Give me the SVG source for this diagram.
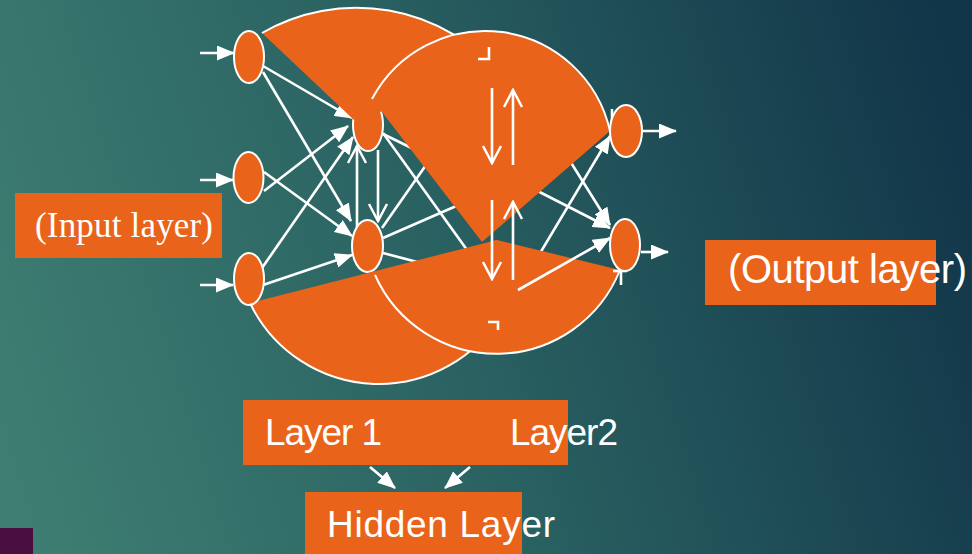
<svg xmlns="http://www.w3.org/2000/svg" width="972" height="554" viewBox="0 0 972 554">
  <defs>
    <linearGradient id="bg" gradientUnits="userSpaceOnUse" x1="0" y1="420" x2="972" y2="120">
      <stop offset="0" stop-color="#3e7e72"/>
      <stop offset="0.45" stop-color="#2a6262"/>
      <stop offset="1" stop-color="#113549"/>
    </linearGradient>
    <!-- filled arrowhead -->
    <marker id="ah" viewBox="0 0 18 15" refX="17" refY="7.5" markerWidth="18" markerHeight="15" markerUnits="userSpaceOnUse" orient="auto">
      <path d="M0,0 L18,7.5 L0,15 Z" fill="#fff"/>
    </marker>
    <!-- open V arrowhead -->
    <marker id="av" viewBox="0 0 20 22" refX="18" refY="11" markerWidth="20" markerHeight="22" markerUnits="userSpaceOnUse" orient="auto">
      <path d="M1,2 L18,11 L1,20" fill="none" stroke="#fff" stroke-width="2.5"/>
    </marker>
    <style>
      .node { fill: #e9641a; stroke: #fff; stroke-width: 2; }
      .wedge { fill: #e9641a; stroke: none; }
      .rim { fill: none; stroke: #fff; stroke-width: 2; }
      .ln { fill: none; stroke: #fff; stroke-width: 2.6; }
      .arr { marker-end: url(#ah); }
      .open { marker-end: url(#av); }
      .box { fill: #e9641a; }
      .serif { font-family: "Liberation Serif", "Times New Roman", serif; fill: #fff; }
      .sans { font-family: "Liberation Sans", Arial, sans-serif; fill: #fff; }
    </style>
  </defs>

  <!-- background -->
  <rect width="972" height="554" fill="url(#bg)"/>
  <rect x="0" y="528" width="33" height="26" fill="#4b0e40"/>

  <!-- connectors beneath the wedges -->
  <g id="connectors-under">
    <!-- input layer to layer 1 -->
    <line class="ln arr" x1="263" y1="66" x2="352" y2="118"/>
    <line class="ln arr" x1="263" y1="72" x2="351" y2="221"/>
    <line class="ln arr" x1="264" y1="191" x2="348" y2="126"/>
    <line class="ln arr" x1="264" y1="172" x2="352" y2="236"/>
    <line class="ln arr" x1="262" y1="268" x2="353" y2="137"/>
    <line class="ln arr" x1="263" y1="285" x2="352" y2="255"/>
    <!-- within layer 1 -->
    <line class="ln open" x1="357" y1="227" x2="357" y2="146"/>
    <line class="ln open" x1="378" y1="150" x2="378" y2="221"/>
    <!-- layer 1 to layer 2 -->
    <line class="ln" x1="383" y1="133" x2="480" y2="268"/>
    <line class="ln" x1="383" y1="134" x2="430" y2="157"/>
    <line class="ln" x1="382" y1="228" x2="440" y2="145"/>
    <line class="ln" x1="383" y1="238" x2="470" y2="200"/>
    <line class="ln" x1="383" y1="253" x2="440" y2="268"/>
    <!-- layer 2 to output layer -->
    <line class="ln arr" x1="555" y1="137" x2="610" y2="225"/>
    <line class="ln arr" x1="520" y1="182" x2="610" y2="228"/>
    <line class="ln arr" x1="530" y1="270" x2="610" y2="136"/>
  </g>

  <!-- layer 1 nodes -->
  <g id="h1"><ellipse class="node" cx="368" cy="125" rx="15" ry="26"/></g>
  <g id="h2"><ellipse class="node" cx="367.5" cy="246" rx="15.5" ry="26"/></g>

  <!-- wedges -->
  <g id="wedge-a">
    <path class="wedge" d="M354,120 L262,33 A189,189 0 0 1 501,75 Z"/>
    <path class="rim" d="M262,33 A189,189 0 0 1 501,75"/>
  </g>
  <g id="wedge-b">
    <path class="wedge" d="M482,242 L372,99 A128,128 0 0 1 610,131 Z"/>
    <path class="rim" d="M372,99 A128,128 0 0 1 610,131"/>
  </g>
  <g id="wedge-c">
    <path class="wedge" d="M497,240 L250,303 A143,143 0 0 0 503,312 Z"/>
    <path class="rim" d="M250,303 A143,143 0 0 0 503,312"/>
  </g>
  <g id="wedge-d">
    <path class="wedge" d="M497,240 L620,270 A133,133 0 0 1 375,275 Z"/>
    <path class="rim" d="M620,270 A133,133 0 0 1 375,275"/>
  </g>

  <!-- connectors above the wedges -->
  <g id="connectors">
    <line class="ln arr" x1="200" y1="53" x2="234" y2="53"/>
    <line class="ln arr" x1="200" y1="180" x2="233" y2="180"/>
    <line class="ln arr" x1="200" y1="285" x2="233" y2="285"/>
    <line class="ln arr" x1="642" y1="131" x2="676" y2="131"/>
    <line class="ln arr" x1="641" y1="252" x2="668" y2="252"/>
    <!-- within layer 2 -->
    <line class="ln open" x1="492" y1="88" x2="492" y2="163"/>
    <line class="ln open" x1="513" y1="165" x2="513" y2="90"/>
    <line class="ln open" x1="492" y1="200" x2="492" y2="279"/>
    <line class="ln open" x1="513" y1="280" x2="513" y2="202"/>
    <line class="ln arr" x1="518" y1="290" x2="610" y2="238"/>
    <!-- small marks -->
    <polyline class="ln" points="489,47 489,59 478,59" stroke-width="2"/>
    <polyline class="ln" points="488,322 498,322 498,330" stroke-width="2"/>
    <line class="ln" x1="612" y1="109" x2="612" y2="124" stroke-width="2"/>
    <line class="ln" x1="613" y1="271" x2="627" y2="271" stroke-width="2"/>
    <line class="ln" x1="621" y1="271" x2="621" y2="285" stroke-width="2"/>
    <!-- labels to hidden layer -->
    <line class="ln arr" x1="370" y1="467" x2="395" y2="488"/>
    <line class="ln arr" x1="470" y1="467" x2="445" y2="488"/>
  </g>

  <!-- input and output nodes -->
  <g id="in1"><ellipse class="node" cx="249" cy="57" rx="15" ry="26"/></g>
  <g id="in2"><ellipse class="node" cx="248.5" cy="177.5" rx="15" ry="25.5"/></g>
  <g id="in3"><ellipse class="node" cx="249" cy="279" rx="15" ry="26"/></g>
  <g id="out1"><ellipse class="node" cx="626" cy="131" rx="16" ry="26"/></g>
  <g id="out2"><ellipse class="node" cx="625" cy="245" rx="15" ry="26"/></g>

  <!-- labels -->
  <g id="input-label">
    <rect class="box" x="15" y="193" width="207" height="65"/>
    <text class="serif" x="35" y="237" font-size="35" textLength="178">(Input layer)</text>
  </g>
  <g id="output-label">
    <rect class="box" x="705" y="240" width="231" height="65"/>
    <text class="sans" x="728" y="283" font-size="40" textLength="239">(Output layer)</text>
  </g>
  <g id="layers-label">
    <rect class="box" x="243" y="400" width="325" height="65"/>
    <text class="sans" x="265" y="445" font-size="37" textLength="117">Layer 1</text>
    <text class="sans" x="510" y="445" font-size="37" textLength="108">Layer2</text>
  </g>
  <g id="hidden-label">
    <rect class="box" x="305" y="492" width="217" height="62"/>
    <text class="sans" x="327" y="537" font-size="37" textLength="228">Hidden Layer</text>
  </g>
</svg>
